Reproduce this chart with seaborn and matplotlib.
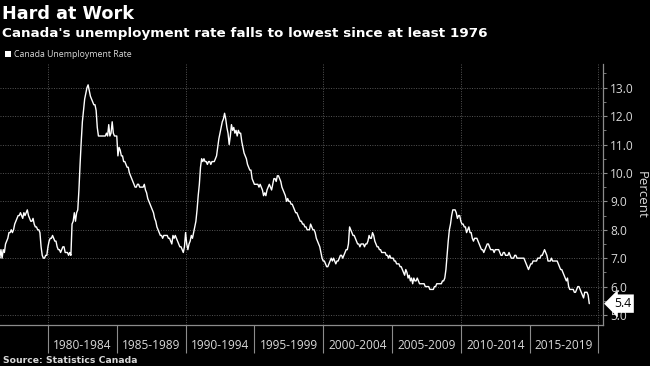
import numpy as np
import pandas as pd
import matplotlib
matplotlib.use("Agg")
import matplotlib.pyplot as plt
import matplotlib.transforms as mtransforms
from matplotlib.patches import Rectangle
import seaborn as sns

# ---------------- data (monthly, seasonally adjusted, %) ----------------
years = list(range(1976, 2020))
rates = {
    1976: [7.1, 7.1, 7.0, 7.0, 7.0, 7.1, 7.0, 7.3, 7.0, 7.3, 7.2, 7.5],
    1977: [7.6, 7.7, 7.9, 7.9, 8.0, 7.9, 8.0, 8.2, 8.3, 8.4, 8.5, 8.5],
    1978: [8.6, 8.5, 8.4, 8.6, 8.5, 8.6, 8.7, 8.5, 8.4, 8.3, 8.3, 8.4],
    1979: [8.2, 8.1, 8.1, 8.0, 8.0, 7.9, 7.4, 7.1, 7.0, 7.0, 7.1, 7.1],
    1980: [7.4, 7.6, 7.7, 7.7, 7.8, 7.7, 7.6, 7.6, 7.4, 7.3, 7.3, 7.2],
    1981: [7.3, 7.4, 7.4, 7.2, 7.2, 7.2, 7.1, 7.2, 7.1, 8.2, 8.3, 8.6],
    1982: [8.3, 8.6, 8.7, 9.4, 10.3, 11.1, 11.8, 12.2, 12.6, 12.8, 13.0, 13.1],
    1983: [12.9, 12.7, 12.6, 12.5, 12.4, 12.4, 12.2, 11.6, 11.3, 11.3, 11.3, 11.3],
    1984: [11.3, 11.3, 11.3, 11.4, 11.3, 11.7, 11.3, 11.4, 11.8, 11.4, 11.3, 11.3],
    1985: [11.3, 10.6, 10.9, 10.8, 10.6, 10.6, 10.4, 10.4, 10.3, 10.2, 10.2, 10.0],
    1986: [9.9, 9.8, 9.7, 9.6, 9.5, 9.5, 9.6, 9.6, 9.5, 9.5, 9.5, 9.5],
    1987: [9.6, 9.4, 9.3, 9.1, 9.0, 8.9, 8.8, 8.7, 8.6, 8.4, 8.3, 8.1],
    1988: [8.0, 7.9, 7.8, 7.8, 7.7, 7.8, 7.8, 7.8, 7.8, 7.7, 7.7, 7.6],
    1989: [7.5, 7.8, 7.7, 7.8, 7.7, 7.6, 7.5, 7.4, 7.4, 7.3, 7.2, 7.4],
    1990: [7.9, 7.5, 7.3, 7.5, 7.6, 7.8, 7.7, 7.9, 8.1, 8.3, 8.7, 9.2],
    1991: [9.6, 10.2, 10.5, 10.4, 10.5, 10.4, 10.4, 10.3, 10.4, 10.4, 10.3, 10.4],
    1992: [10.4, 10.4, 10.5, 10.6, 10.9, 11.2, 11.4, 11.6, 11.8, 11.9, 12.1, 11.9],
    1993: [11.6, 11.4, 11.0, 11.3, 11.7, 11.5, 11.6, 11.4, 11.5, 11.3, 11.5, 11.4],
    1994: [11.4, 11.1, 10.9, 10.7, 10.6, 10.5, 10.3, 10.2, 10.1, 10.1, 9.8, 9.7],
    1995: [9.6, 9.6, 9.6, 9.6, 9.5, 9.6, 9.5, 9.4, 9.2, 9.3, 9.2, 9.4],
    1996: [9.5, 9.6, 9.5, 9.4, 9.6, 9.8, 9.8, 9.7, 9.9, 9.9, 9.8, 9.7],
    1997: [9.5, 9.4, 9.3, 9.2, 9.0, 9.1, 9.0, 9.0, 8.9, 8.9, 8.8, 8.7],
    1998: [8.6, 8.6, 8.5, 8.4, 8.3, 8.3, 8.2, 8.2, 8.1, 8.1, 8.0, 8.0],
    1999: [8.0, 8.2, 8.1, 8.0, 8.0, 7.9, 7.7, 7.6, 7.5, 7.4, 7.2, 7.0],
    2000: [6.9, 6.9, 6.8, 6.7, 6.7, 6.8, 6.9, 7.0, 6.9, 7.0, 6.9, 6.8],
    2001: [6.9, 6.9, 7.0, 7.1, 7.1, 7.0, 7.1, 7.2, 7.3, 7.3, 7.5, 8.1],
    2002: [8.0, 7.9, 7.8, 7.8, 7.7, 7.6, 7.5, 7.5, 7.4, 7.5, 7.5, 7.5],
    2003: [7.4, 7.5, 7.5, 7.6, 7.8, 7.7, 7.7, 7.9, 7.8, 7.6, 7.5, 7.4],
    2004: [7.4, 7.3, 7.3, 7.2, 7.2, 7.2, 7.2, 7.1, 7.1, 7.0, 7.1, 7.0],
    2005: [7.0, 7.0, 6.9, 6.9, 6.8, 6.8, 6.8, 6.7, 6.7, 6.6, 6.5, 6.4],
    2006: [6.6, 6.5, 6.3, 6.4, 6.2, 6.3, 6.1, 6.3, 6.2, 6.2, 6.3, 6.2],
    2007: [6.1, 6.1, 6.1, 6.1, 6.1, 6.0, 6.0, 6.0, 6.0, 5.9, 5.9, 5.9],
    2008: [5.9, 6.0, 6.0, 6.1, 6.1, 6.1, 6.1, 6.1, 6.2, 6.2, 6.3, 6.6],
    2009: [7.1, 7.6, 8.0, 8.2, 8.5, 8.7, 8.7, 8.7, 8.6, 8.4, 8.5, 8.5],
    2010: [8.3, 8.2, 8.2, 8.1, 8.1, 7.9, 8.0, 8.1, 7.9, 7.9, 7.7, 7.6],
    2011: [7.7, 7.7, 7.7, 7.6, 7.5, 7.4, 7.3, 7.3, 7.2, 7.3, 7.4, 7.5],
    2012: [7.5, 7.4, 7.3, 7.3, 7.3, 7.2, 7.3, 7.3, 7.3, 7.3, 7.2, 7.1],
    2013: [7.1, 7.2, 7.2, 7.1, 7.1, 7.1, 7.2, 7.1, 7.0, 7.0, 7.0, 7.1],
    2014: [7.1, 7.0, 7.0, 7.0, 7.0, 7.0, 7.0, 7.0, 6.9, 6.8, 6.7, 6.6],
    2015: [6.7, 6.8, 6.8, 6.9, 6.9, 6.9, 6.9, 7.0, 7.0, 7.0, 7.1, 7.1],
    2016: [7.2, 7.3, 7.2, 7.1, 6.9, 6.9, 6.9, 7.0, 6.9, 6.9, 6.9, 6.9],
    2017: [6.9, 6.8, 6.7, 6.6, 6.6, 6.5, 6.4, 6.3, 6.2, 6.3, 6.0, 5.9],
    2018: [5.9, 5.9, 5.9, 5.8, 5.8, 5.9, 6.0, 6.0, 5.9, 5.8, 5.7, 5.6],
    2019: [5.8, 5.8, 5.8, 5.7, 5.4],
}
period_labels = ["1980-1984", "1985-1989", "1990-1994", "1995-1999",
                 "2000-2004", "2005-2009", "2010-2014", "2015-2019"]
period_starts = [1980, 1985, 1990, 1995, 2000, 2005, 2010, 2015, 2020]
decade_lines = [1980, 1990, 2000, 2010, 2020]
y_ticks = [5.0, 6.0, 7.0, 8.0, 9.0, 10.0, 11.0, 12.0, 13.0]

t, v = [], []
for yr in years:
    for m, val in enumerate(rates[yr]):
        t.append(yr + m / 12.0)
        v.append(val)
df = pd.DataFrame({"time": t, "rate": v})

# ---------------- style ----------------
sns.set_theme(style="dark")
plt.rcParams["font.family"] = ["Open Sans", "DejaVu Sans"]
BG = "#000000"
GRID = "#555555"
AXC = "#8c8c8c"
TXT = "#d9d9d9"

W, H = 650, 366
fig = plt.figure(figsize=(6.5, 3.66), dpi=100, facecolor=BG)
L, R, T, B = 0, 603, 64, 325
ax = fig.add_axes([L / W, 1 - B / H, (R - L) / W, (B - T) / H])
ax.set_facecolor(BG)

sns.lineplot(data=df, x="time", y="rate", color="white", linewidth=1.0, ax=ax)

ax.set_xlim(1976.515, 2020.33)
ax.set_ylim(4.648, 13.834)

# grid
ax.set_yticks(y_ticks)
ax.yaxis.set_minor_locator(matplotlib.ticker.MultipleLocator(0.5))
ax.grid(False)
for yv in y_ticks:
    ax.axhline(yv, color=GRID, linestyle=(0, (1, 1.5)), linewidth=0.7, zorder=0)
for xv in decade_lines:
    ax.axvline(xv, color=GRID, linestyle=(0, (1, 1.5)), linewidth=0.7, zorder=0)

# y axis on right
ax.yaxis.tick_right()
ax.yaxis.set_major_formatter(matplotlib.ticker.FormatStrFormatter("%.1f"))
ax.tick_params(axis="y", which="major", right=True, left=False, length=3,
               width=0.8, color=AXC, labelcolor=TXT, labelsize=8.6, pad=2)
ax.tick_params(axis="y", which="minor", right=True, left=False, length=2,
               width=0.6, color=AXC)

# x axis: separators (major) and period labels (minor)
ax.set_xticks(period_starts)
ax.set_xticklabels([])
ax.set_xticks([s + 2.5 for s in period_starts[:-1]], minor=True)
ax.set_xticklabels(period_labels, minor=True)
ax.tick_params(axis="x", which="major", bottom=True, length=20.2, width=0.8,
               color=AXC)
ax.tick_params(axis="x", which="minor", bottom=True, length=0, pad=10,
               labelcolor=TXT, labelsize=8.6)
ax.set_xlabel("")
ax.set_ylabel("")

for s in ["top", "left"]:
    ax.spines[s].set_visible(False)
for s in ["bottom", "right"]:
    ax.spines[s].set_visible(True)
    ax.spines[s].set_color(AXC)
    ax.spines[s].set_linewidth(0.9)

# last value callout
last = v[-1]
trans = mtransforms.blended_transform_factory(ax.transAxes, ax.transData)
trans = trans + mtransforms.ScaledTranslation(11 / 100, 0, fig.dpi_scale_trans)
ax.text(1.0, last, f"{last:.1f}", transform=trans, ha="left", va="center",
        color="black", fontsize=8.8, clip_on=False, zorder=5,
        bbox=dict(boxstyle="larrow,pad=0.22", fc="white", ec="none"))

# titles and texts
fig.text(2 / W, 1 - 19 / H, "Hard at Work", family="DejaVu Sans",
         fontweight="bold", fontsize=12.7, color="white", va="baseline")
fig.text(2 / W, 1 - 37 / H,
         "Canada's unemployment rate falls to lowest since at least 1976",
         family="DejaVu Sans", fontweight="bold", fontsize=9.7, color="white",
         va="baseline")
fig.patches.append(Rectangle((5 / W, 1 - 57 / H), 6 / W, 6 / H,
                             transform=fig.transFigure, fc="white", ec="none"))
fig.text(14 / W, 1 - 57 / H, "Canada Unemployment Rate", fontsize=6.3,
         color=TXT, va="baseline")
fig.text(641 / W, 1 - 195 / H, "Percent", rotation=270, fontsize=9.5,
         color=TXT, ha="center", va="center")
fig.text(3 / W, 1 - 363 / H, "Source: Statistics Canada", family="DejaVu Sans",
         fontweight="bold", fontsize=6.7, color=TXT, va="baseline")

fig.savefig("out.png", dpi=100, facecolor=BG)
